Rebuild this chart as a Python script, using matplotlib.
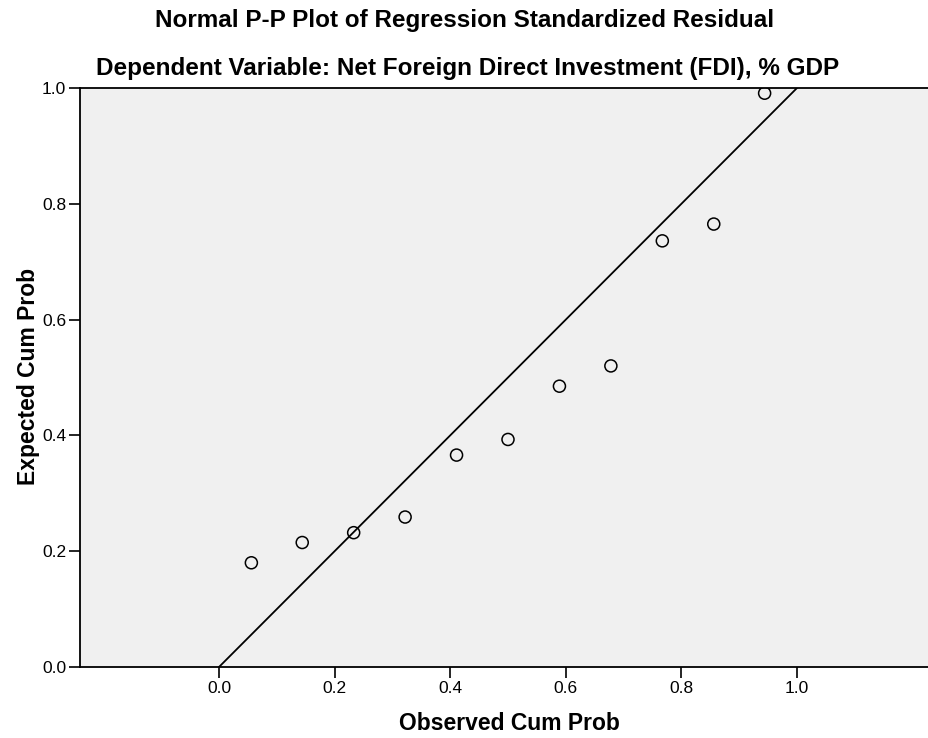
import matplotlib
matplotlib.use("Agg")
import matplotlib.pyplot as plt

observed = [0.056, 0.144, 0.233, 0.322, 0.411, 0.500, 0.589, 0.678, 0.767, 0.856, 0.944]
expected = [0.180, 0.215, 0.232, 0.259, 0.366, 0.393, 0.485, 0.520, 0.736, 0.765, 0.991]
ref_line = [0.0, 1.0]
xticks = [0.0, 0.2, 0.4, 0.6, 0.8, 1.0]
yticks = [0.0, 0.2, 0.4, 0.6, 0.8, 1.0]
title1 = "Normal P-P Plot of Regression Standardized Residual"
title2 = "Dependent Variable: Net Foreign Direct Investment (FDI), % GDP"

plt.rcParams['font.family'] = ['Liberation Sans', 'DejaVu Sans']

fig = plt.figure(figsize=(9.29, 7.38), dpi=100)
ax = fig.add_axes([80/929, 71/738, 1 - 80/929, 579/738])
ax.set_facecolor('#f0f0f0')

ax.plot(ref_line, ref_line, color='black', lw=1.3, zorder=2)
ax.scatter(observed, expected, s=75, facecolors='none', edgecolors='black', linewidths=1.1, zorder=3)

ax.set_xlim(-0.2405, 1.2284)
ax.set_ylim(0, 1)
ax.set_xticks(xticks)
ax.set_yticks(yticks)
ax.set_xticklabels([f"{v:.1f}" for v in xticks])
ax.set_yticklabels([f"{v:.1f}" for v in yticks])
ax.tick_params(direction='out', length=8, width=1.2, labelsize=12.5, colors='black', pad=2)
for s in ['left', 'bottom', 'top']:
    ax.spines[s].set_linewidth(1.3)
ax.spines['right'].set_visible(False)

ax.set_xlabel("Observed Cum Prob", fontsize=16.5, fontweight='bold', va='center')
ax.set_ylabel("Expected Cum Prob", fontsize=16.5, fontweight='bold', va='center', ha='center')
ax.xaxis.set_label_coords((509-80)/849, -(723-667)/579)
ax.yaxis.set_label_coords(-(80-28)/849, (667-376)/579)

fig.text(465/929, 1 - 20/738, title1, ha='center', va='center', fontsize=17.5, fontweight='bold')
fig.text(468/929, 1 - 68/738, title2, ha='center', va='center', fontsize=17.5, fontweight='bold')

fig.savefig("out.png", dpi=100, facecolor='white')
